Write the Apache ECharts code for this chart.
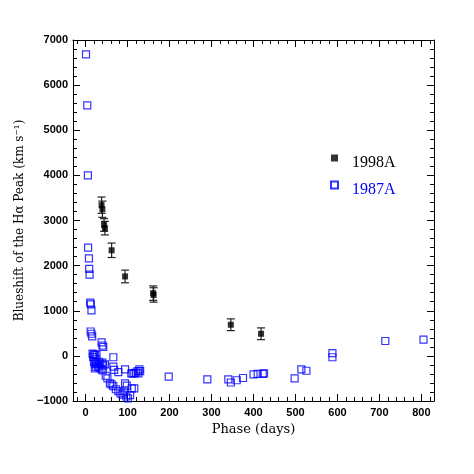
<!DOCTYPE html>
<html>
<head>
<meta charset="utf-8">
<script src="https://cdn.jsdelivr.net/npm/echarts@6/dist/echarts.min.js"></script>
<style>
html, body { margin: 0; padding: 0; background: #fff; }
#chart { width: 474px; height: 474px; }
</style>
</head>
<body>
<div id="chart"></div>
<script>
// SN 1998A (filled squares, with error bars)
var phase1998 = [38, 40, 44, 46, 62, 94, 161, 162, 346, 418];
var shift1998 = [3340, 3250, 2900, 2830, 2340, 1760, 1390, 1350, 690, 490];
var err1998 = [180, 180, 140, 150, 160, 140, 160, 160, 130, 130];

// SN 1987A (open squares)
var phase1987 = [1, 4, 5.5, 6, 8, 8.6, 9.5, 11, 12.6, 14, 12, 14, 15.7,
    16.6, 19.8, 22, 26, 18, 24,
    20, 22, 25, 28, 32, 35, 40, 42, 46,
    22, 25, 30, 33, 38, 41,
    38, 40, 42,
    66, 66, 68, 78, 94,
    109, 112, 116, 120, 124, 126, 128, 130,
    48, 52, 58, 62, 66, 72, 78,
    94, 98, 110, 116,
    83, 88, 92, 97, 101, 106,
    198, 290, 340, 346, 360, 375, 400, 410, 422, 425,
    498, 514, 526, 588, 588, 714, 805];
var shift1987 = [6680, 5550, 4000, 2400, 2160, 1930, 1800, 1180, 1140, 1010, 540, 490, 430,
    50, 35, 35, 15, -20, -60,
    -130, -170, -150, -190, -130, -170, -150, -210, -190,
    -280, -250, -230, -260, -300, -320,
    300, 230, 200,
    -30, -240, -310, -360, -300,
    -390, -390, -390, -370, -340, -390, -300, -340,
    -440, -500, -610, -630, -670, -740, -780,
    -610, -660, -720, -720,
    -830, -860, -790, -900, -940, -870,
    -460, -520, -520, -590, -540, -490, -410, -400, -400, -390,
    -500, -300, -330, 60, -30, 330, 360];

// tick positions
var xMajorTicks = [0, 100, 200, 300, 400, 500, 600, 700, 800];
var xMinorTicks = [-20, 20, 40, 60, 80, 120, 140, 160, 180, 220, 240, 260, 280,
    320, 340, 360, 380, 420, 440, 460, 480, 520, 540, 560, 580,
    620, 640, 660, 680, 720, 740, 760, 780, 820];

var data1998 = phase1998.map(function (d, i) { return [d, shift1998[i]]; });
var bars1998 = phase1998.map(function (d, i) {
    return [d, shift1998[i] - err1998[i], shift1998[i] + err1998[i]];
});
var data1987 = phase1987.map(function (d, i) { return [d, shift1987[i]]; });

var axisColor = '#000';
var labelFont = {
    color: '#000',
    fontFamily: 'Liberation Sans',
    fontSize: 11,
    fontWeight: 'bold'
};

function renderErrorBar(params, api) {
    var x = api.value(0);
    var lo = api.coord([x, api.value(1)]);
    var hi = api.coord([x, api.value(2)]);
    var cap = 4;
    var style = { stroke: '#222', lineWidth: 1.2 };
    return {
        type: 'group',
        children: [
            { type: 'line', shape: { x1: lo[0], y1: lo[1], x2: hi[0], y2: hi[1] }, style: style },
            { type: 'line', shape: { x1: lo[0] - cap, y1: lo[1], x2: lo[0] + cap, y2: lo[1] }, style: style },
            { type: 'line', shape: { x1: hi[0] - cap, y1: hi[1], x2: hi[0] + cap, y2: hi[1] }, style: style }
        ]
    };
}

function xAxisCfg(position, ticks, len, main) {
    return {
        type: 'value',
        position: position,
        min: -30,
        max: 830,
        axisLine: { show: main, onZero: false, lineStyle: { color: axisColor, width: 1 } },
        axisTick: { show: true, inside: true, length: len, customValues: ticks,
            lineStyle: { color: axisColor, width: 1 } },
        axisLabel: Object.assign({ show: main && position === 'bottom', margin: 6,
            customValues: ticks }, labelFont),
        splitLine: { show: false }
    };
}

function yAxisCfg(position) {
    return {
        type: 'value',
        position: position,
        min: -1000,
        max: 7000,
        interval: 1000,
        axisLine: { show: true, onZero: false, lineStyle: { color: axisColor, width: 1 } },
        axisTick: { inside: true, length: 7, lineStyle: { color: axisColor, width: 1 } },
        minorTick: { show: true, splitNumber: 5, length: 4, lineStyle: { color: axisColor, width: 1 } },
        axisLabel: Object.assign({ show: position === 'left', margin: 5,
            formatter: function (v) { return String(v).replace('-', '\u2212'); } }, labelFont),
        splitLine: { show: false },
        minorSplitLine: { show: false }
    };
}

var xBottom = xAxisCfg('bottom', xMajorTicks, 7, true);
xBottom.name = 'Phase (days)';
xBottom.nameLocation = 'middle';
xBottom.nameGap = 21;
xBottom.nameTextStyle = { color: '#000', fontFamily: 'DejaVu Serif', fontSize: 13 };

var yLeft = yAxisCfg('left');
yLeft.name = 'Blueshift of the H\u03b1 Peak (km s\u207b\u00b9)';
yLeft.nameLocation = 'middle';
yLeft.nameGap = 44;
yLeft.nameTextStyle = { color: '#000', fontFamily: 'DejaVu Serif', fontSize: 12 };

var chart = echarts.init(document.getElementById('chart'));
chart.setOption({
    animation: false,
    backgroundColor: '#fff',
    grid: { left: 73, right: 40, top: 40, bottom: 73, containLabel: false },
    legend: {
        orient: 'vertical',
        left: 325,
        top: 145,
        itemWidth: 7,
        itemHeight: 7,
        itemGap: 6,
        selectedMode: false,
        // the label sits a little below its marker, as in the original
        formatter: function (name) { return '{gap|}{t|' + name + '}'; },
        textStyle: {
            fontFamily: 'Liberation Serif',
            fontSize: 16,
            rich: {
                gap: { width: 9, height: 26 },
                t: { fontFamily: 'Liberation Serif', fontSize: 16, verticalAlign: 'bottom' }
            }
        },
        data: [
            { name: '1998A', textStyle: { color: '#000' } },
            { name: '1987A', textStyle: { color: '#0000ff' } }
        ]
    },
    xAxis: [
        xBottom,
        xAxisCfg('bottom', xMinorTicks, 4, false),
        xAxisCfg('top', xMajorTicks, 7, true),
        xAxisCfg('top', xMinorTicks, 4, false)
    ],
    yAxis: [yLeft, yAxisCfg('right')],
    series: [
        {
            name: '1987A',
            type: 'scatter',
            symbol: 'rect',
            symbolSize: 7,
            itemStyle: { color: 'rgba(0,0,0,0)', borderColor: '#0000ff', borderWidth: 1.2 },
            data: data1987,
            z: 2
        },
        {
            name: 'err1998',
            type: 'custom',
            renderItem: renderErrorBar,
            data: bars1998,
            z: 3
        },
        {
            name: '1998A',
            type: 'scatter',
            symbol: 'rect',
            symbolSize: 6,
            itemStyle: { color: '#000' },
            data: data1998,
            z: 4
        }
    ]
});
</script>
</body>
</html>
